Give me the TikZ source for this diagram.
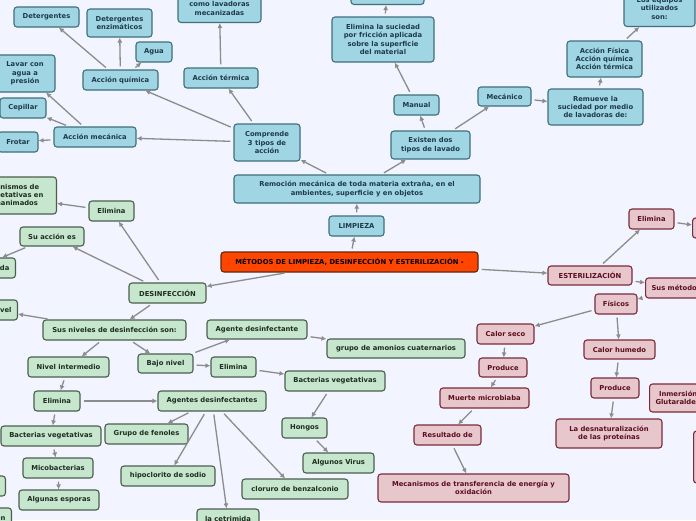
\documentclass[tikz,border=0pt]{standalone}
\usepackage{fontspec}
\setmainfont{DejaVu Sans}
\usetikzlibrary{arrows.meta}
\definecolor{bg}{HTML}{F2F5FF}
\definecolor{bfill}{HTML}{A0D6E3}
\definecolor{bdraw}{HTML}{3F6E7C}
\definecolor{btext}{HTML}{1E3A4C}
\definecolor{gfill}{HTML}{C6E6CD}
\definecolor{gdraw}{HTML}{4A5E4C}
\definecolor{gtext}{HTML}{1E2E20}
\definecolor{pfill}{HTML}{E8C7CC}
\definecolor{pdraw}{HTML}{7A2B3A}
\definecolor{ptext}{HTML}{5A0F1E}
\definecolor{mfill}{HTML}{FF4500}
\definecolor{mdraw}{HTML}{5A2A10}
\definecolor{agray}{HTML}{8C8C8C}
\tikzset{
  mapbox/.style={draw, rounded corners=3pt, line width=1.1pt, align=center,
    inner xsep=6pt, inner ysep=2pt,
    font=\fontsize{6.8}{8.3}\selectfont\bfseries},
  bluebox/.style={mapbox, fill=bfill, draw=bdraw, text=btext},
  greenbox/.style={mapbox, fill=gfill, draw=gdraw, text=gtext},
  pinkbox/.style={mapbox, fill=pfill, draw=pdraw, text=ptext},
  mainbox/.style={mapbox, fill=mfill, draw=mdraw, text=black},
  arr/.style={draw=agray, line width=1.3pt, -{Latex[length=5pt,width=5pt]}, shorten <=3pt},
}
\begin{document}
\begin{tikzpicture}[x=1pt, y=-1pt]
\useasboundingbox (0,0) rectangle (696,520);
\fill[bg] (0,0) rectangle (696,520);

% ---- blue (LIMPIEZA) ----
\node[bluebox, minimum width=65, minimum height=20] (det) at (46.5,17) {Detergentes};
\node[bluebox, minimum width=65, minimum height=28] (detenz) at (119.5,23) {Detergentes\\enzimáticos};
\node[bluebox, minimum width=36, minimum height=20] (agua) at (154,52) {Agua};
\node[bluebox, minimum width=83, minimum height=28, anchor=south] (lavad) at (219.5,23) {como lavadoras\\mecanizadas};
\node[bluebox, minimum width=75, minimum height=20] (accq) at (120.5,80) {Acción química};
\node[bluebox, minimum width=74, minimum height=20] (acct) at (221,78) {Acción térmica};
\node[bluebox, minimum width=60, minimum height=37] (lavar) at (25,73.5) {Lavar con\\agua a\\presión};
\node[bluebox, minimum width=46, minimum height=20] (cepi) at (23,108) {Cepillar};
\node[bluebox, minimum width=40, minimum height=20] (frot) at (18,142) {Frotar};
\node[bluebox, minimum width=82, minimum height=20] (accm) at (95,137) {Acción mecánica};
\node[bluebox, minimum width=66, minimum height=37] (comp) at (267,142.5) {Comprende\\3 tipos de\\acción};
\node[bluebox, minimum width=102, minimum height=45] (elsuc) at (383,39.5) {Elimina la suciedad\\por fricción aplicada\\sobre la superficie\\del material};
\node[bluebox, minimum width=73, minimum height=30, anchor=south] (topb) at (387.5,5) {};
\node[bluebox, minimum width=45, minimum height=20] (manual) at (416.5,105) {Manual};
\node[bluebox, minimum width=79, minimum height=28] (exist) at (430.5,145) {Existen dos\\tipos de lavado};
\node[bluebox, minimum width=53, minimum height=19] (mecan) at (504.5,96.5) {Mecánico};
\node[bluebox, minimum width=95, minimum height=36] (remu) at (595.5,107) {Remueve la\\suciedad por medio\\de lavadoras de:};
\node[bluebox, minimum width=75, minimum height=36] (accf) at (604.5,59) {Acción Física\\Acción química\\Acción térmica};
\node[bluebox, minimum width=71, minimum height=36, anchor=south] (equip) at (659.5,27) {Los equipos\\utilizados\\son:};
\node[bluebox, minimum width=246, minimum height=28] (remo) at (357,189) {Remoción mecánica de toda materia extraña, en el\\ambientes, superficie y en objetos};
\node[bluebox, minimum width=55, minimum height=20] (limp) at (356.5,226) {LIMPIEZA};

% ---- main ----
\node[mainbox, minimum width=257, minimum height=20] (met) at (349.5,262) {MÉTODOS DE LIMPIEZA, DESINFECCIÓN Y ESTERILIZACIÓN -};

% ---- green (DESINFECCIÓN) ----
\node[greenbox, minimum width=112, minimum height=37, anchor=east] (micro) at (57,195.5) {Microorganismos de\\formas vegetativas en\\objetos inanimados};
\node[greenbox, minimum width=45, minimum height=20] (elimg) at (111.5,211) {Elimina};
\node[greenbox, minimum width=64, minimum height=19] (suacc) at (52,236.5) {Su acción es};
\node[greenbox, minimum height=20, anchor=east] (da) at (16,268) {Limitada};
\node[greenbox, minimum width=77, minimum height=20] (desinf) at (167.5,293) {DESINFECCIÓN};
\node[greenbox, minimum height=20, anchor=east] (vel) at (18,310) {Alto nivel};
\node[greenbox, minimum width=143, minimum height=20] (susniv) at (114.5,330) {Sus niveles de desinfección son:};
\node[greenbox, minimum width=100, minimum height=19] (agdes) at (257,329.5) {Agente desinfectante};
\node[greenbox, minimum width=81, minimum height=20] (nivint) at (68.5,367) {Nivel intermedio};
\node[greenbox, minimum width=55, minimum height=19] (bajo) at (165.5,363.5) {Bajo nivel};
\node[greenbox, minimum width=46, minimum height=20] (elimi) at (57,401) {Elimina};
\node[greenbox, minimum width=108, minimum height=20] (agentes) at (212,401) {Agentes desinfectantes};
\node[greenbox, minimum width=100, minimum height=20] (bactl) at (51,436) {Bacterias vegetativas};
\node[greenbox, minimum width=83, minimum height=20] (fenol) at (146.5,434) {Grupo de fenoles};
\node[greenbox, minimum width=70, minimum height=20] (mico) at (58,468) {Micobacterias};
\node[greenbox, minimum width=80, minimum height=20] (espor) at (59,500) {Algunas esporas};
\node[greenbox, minimum width=94, minimum height=20] (hipo) at (168,476) {hipoclorito de sodio};
\node[greenbox, minimum width=62, minimum height=20] (cetri) at (228,519) {la cetrimida};
\node[greenbox, minimum width=45, minimum height=20] (elimb) at (233.5,367) {Elimina};
\node[greenbox, minimum width=138, minimum height=19] (amon) at (396,348.5) {grupo de amonios cuaternarios};
\node[greenbox, minimum width=100, minimum height=20] (bactr) at (335,381) {Bacterias vegetativas};
\node[greenbox, minimum width=45, minimum height=20] (hongos) at (304.5,428) {Hongos};
\node[greenbox, minimum width=71, minimum height=20] (virus) at (338.5,463) {Algunos Virus};
\node[greenbox, minimum width=106, minimum height=20] (cloruro) at (295,489) {cloruro de benzalconio};
\node[greenbox, minimum width=30, minimum height=20, anchor=east] (lg1) at (6,486) {};
\node[greenbox, minimum height=20, anchor=east] (lg2) at (12,518) {Esterilización};

% ---- pink (ESTERILIZACIÓN) ----
\node[pinkbox, minimum width=45, minimum height=20] (elimp) at (651.5,219) {Elimina};
\node[pinkbox, minimum width=40, minimum height=20, anchor=west] (elx) at (692,228) {};
\node[pinkbox, minimum width=84, minimum height=19] (ester) at (590,275.5) {ESTERILIZACIÓN};
\node[pinkbox, minimum height=20, anchor=west] (smet) at (645,288) {Sus métodos son:};
\node[pinkbox, minimum width=42, minimum height=20] (fis) at (616,304) {Físicos};
\node[pinkbox, minimum width=57, minimum height=20] (cseco) at (505.5,334) {Calor seco};
\node[pinkbox, minimum width=71, minimum height=19] (chum) at (619.5,349.5) {Calor humedo};
\node[pinkbox, minimum width=48, minimum height=19] (prod1) at (503,367.5) {Produce};
\node[pinkbox, minimum width=48, minimum height=20] (prod2) at (615,388) {Produce};
\node[pinkbox, minimum height=28, anchor=west] (inmer) at (649,398) {Inmersión en\\Glutaraldehído};
\node[pinkbox, minimum width=89, minimum height=20] (muerte) at (484.5,398) {Muerte microbiaba};
\node[pinkbox, minimum width=67, minimum height=20] (result) at (447.5,435) {Resultado de};
\node[pinkbox, minimum width=191, minimum height=28] (mecan2) at (473.5,488) {Mecanismos de transferencia de energía y\\oxidación};
\node[pinkbox, minimum width=106, minimum height=29] (desnat) at (609,433.5) {La desnaturalización\\de las proteínas};
\node[pinkbox, minimum width=40, minimum height=52, anchor=west] (px2) at (693,457) {};

% ---- connectors ----
\draw[arr] (met) -- (limp);
\draw[arr] (limp) -- (remo);
\draw[arr] (remo) -- (comp);
\draw[arr] (remo) -- (exist);
\draw[arr] (comp) -- (accq);
\draw[arr] (comp) -- (acct);
\draw[arr] (comp) -- (accm);
\draw[arr] (acct) -- (lavad);
\draw[arr] (accq) -- (det);
\draw[arr] (accq) -- (detenz);
\draw[arr] (accq) -- (agua);
\draw[arr] (accm) -- (lavar);
\draw[arr] (accm) -- (cepi);
\draw[arr] (accm) -- (frot);
\draw[arr] (exist) -- (manual);
\draw[arr] (exist) -- (mecan);
\draw[arr] (manual) -- (elsuc);
\draw[arr] (elsuc) -- (topb);
\draw[arr] (mecan) -- (remu);
\draw[arr] (remu) -- (accf);
\draw[arr] (accf) -- (equip);
\draw[arr] (met) -- (desinf);
\draw[arr] (met) -- (ester);
\draw[arr] (desinf) -- (elimg);
\draw[arr] (desinf) -- (suacc);
\draw[arr] (suacc) -- ([xshift=-14pt]da.north east);
\draw[arr] (elimg) -- (micro);
\draw[arr] (desinf) -- (susniv);
\draw[arr] (susniv) -- (vel);
\draw[arr] (susniv) -- (nivint);
\draw[arr] (susniv) -- (bajo);
\draw[arr] (bajo) -- (agdes);
\draw[arr] (bajo) -- (elimb);
\draw[arr] (agdes) -- (amon);
\draw[arr] (elimb) -- (bactr);
\draw[arr] (bactr) -- (hongos);
\draw[arr] (hongos) -- (virus);
\draw[arr] (nivint) -- (elimi);
\draw[arr] (elimi) -- (agentes);
\draw[arr] (elimi) -- (bactl);
\draw[arr] (bactl) -- (mico);
\draw[arr] (mico) -- (espor);
\draw[arr] (agentes) -- (fenol);
\draw[arr] (agentes) -- (hipo);
\draw[arr] (agentes) -- (cetri);
\draw[arr] (agentes) -- (cloruro);
\draw[arr] (ester) -- (elimp);
\draw[arr] (elimp) -- (elx);
\draw[arr] (ester) -- (smet);
\draw[arr] (smet) -- (fis);
\draw[arr] (fis) -- (cseco);
\draw[arr] (fis) -- (chum);
\draw[arr] (chum) -- (prod2);
\draw[arr] (prod2) -- (desnat);
\draw[arr] (cseco) -- (prod1);
\draw[arr] (prod1) -- (muerte);
\draw[arr] (muerte) -- (result);
\draw[arr] (result) -- (mecan2);
\end{tikzpicture}
\end{document}
